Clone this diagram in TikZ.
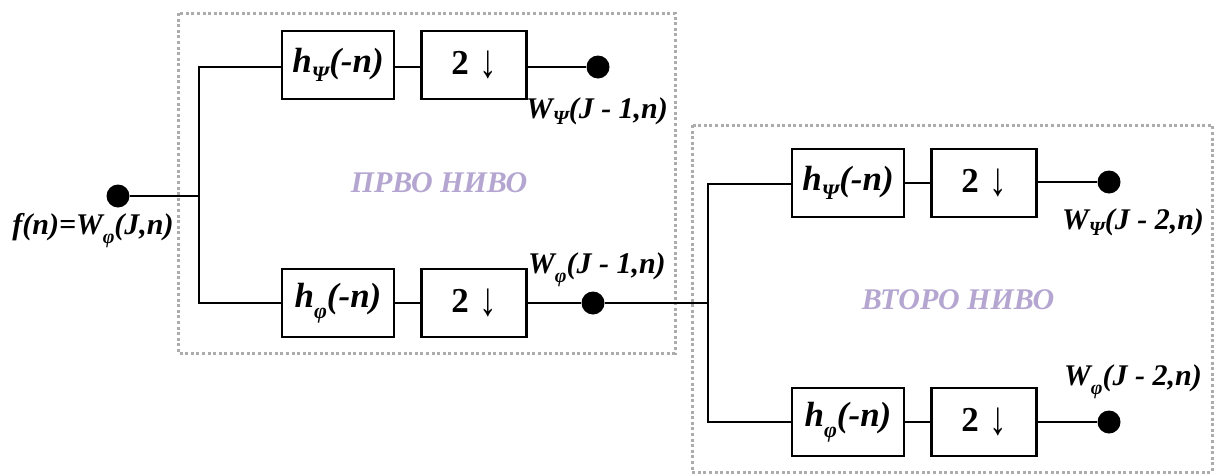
\documentclass[tikz,border=0pt]{standalone}
\usepackage{fontspec}
\usepackage{graphicx}
\setmainfont{Liberation Serif}
\definecolor{lav}{HTML}{B4A6D0}
\newcommand{\downsmp}{2\hspace{0.3em}\raisebox{-0.08em}{\scalebox{1}[1.35]{↓}}}
\begin{document}
\begin{tikzpicture}[x=1pt,y=-1pt,
  blk/.style={draw,line width=2.2pt,minimum height=68pt,inner sep=0pt,font=\fontsize{35}{36}\selectfont\bfseries},
  hbox/.style={blk,minimum width=112pt},
  dbox/.style={blk,minimum width=105pt},
  dot/.style={circle,fill=black,minimum size=23pt,inner sep=0pt},
  lbl/.style={font=\fontsize{30}{32}\selectfont\bfseries\itshape,inner sep=0pt},
  lvl/.style={font=\fontsize{30}{32}\selectfont\bfseries\itshape,text=lav,inner sep=0pt},
  frame/.style={draw=gray!65,line width=3pt,dash pattern=on 3pt off 2.6pt},
  wire/.style={line width=2.4pt}]
\useasboundingbox (0,0) rectangle (1215,474);
% frames
\draw[frame] (178,13) rectangle (675,353);
\draw[frame] (692,125) rectangle (1212,472);
% level 1
\node[dot] (in) at (118,196) {};
\coordinate (j1t) at (199,67);
\coordinate (j1m) at (199,196);
\coordinate (j1b) at (199,303);
\node[hbox] (a1) at (338,65) {\itshape h\raisebox{-0.25em}{\fontsize{22}{23}\selectfont Ψ}(-n)};
\node[dbox] (a2) at (474,65) {\downsmp};
\node[dot] (da) at (598,67) {};
\node[hbox] (b1) at (338,303) {\itshape h\raisebox{-0.3em}{\fontsize{22}{23}\selectfont φ}(-n)};
\node[dbox] (b2) at (474,303) {\downsmp};
\node[dot] (db) at (593,303) {};
\coordinate (j2m) at (708,303);
\coordinate (j2t) at (708,184);
\coordinate (j2b) at (708,422);
% level 2
\node[hbox] (c1) at (848,183) {\itshape h\raisebox{-0.25em}{\fontsize{22}{23}\selectfont Ψ}(-n)};
\node[dbox] (c2) at (984,183) {\downsmp};
\node[dot] (dc) at (1109,182) {};
\node[hbox] (e1) at (848,422) {\itshape h\raisebox{-0.3em}{\fontsize{22}{23}\selectfont φ}(-n)};
\node[dbox] (e2) at (984,422) {\downsmp};
\node[dot] (de) at (1109,422) {};
% wires
\draw[wire] (in) -- (j1m);
\draw[wire] (a1.west |- j1t) -- (j1t) -- (j1b) -- (b1.west |- j1b);
\draw[wire] (a1.east |- j1t) -- (a2.west |- j1t);
\draw[wire] (a2.east |- j1t) -- (da);
\draw[wire] (b1) -- (b2);
\draw[wire] (b2) -- (db) -- (j2m);
\draw[wire] (c1.west |- j2t) -- (j2t) -- (j2b) -- (e1.west |- j2b);
\draw[wire] (c1) -- (c2);
\draw[wire] (c2.east |- dc) -- (dc);
\draw[wire] (e1) -- (e2);
\draw[wire] (e2) -- (de);
% labels
\node[lbl] (lin) at (93,231) {f(n)=W\raisebox{-0.3em}{\fontsize{20}{21}\selectfont φ}(J,n)};
\node[lbl] (la) at (597,111) {W\raisebox{-0.2em}{\fontsize{20}{21}\selectfont Ψ}(J - 1,n)};
\node[lbl] (lb) at (597,270) {W\raisebox{-0.3em}{\fontsize{20}{21}\selectfont φ}(J - 1,n)};
\node[lbl] (lc) at (1133,222) {W\raisebox{-0.2em}{\fontsize{20}{21}\selectfont Ψ}(J - 2,n)};
\node[lbl] (le) at (1133,382) {W\raisebox{-0.3em}{\fontsize{20}{21}\selectfont φ}(J - 2,n)};
\node[lvl] (p1) at (439,183) {ПРВО НИВО};
\node[lvl] (p2) at (958,300) {ВТОРО НИВО};
\end{tikzpicture}
\end{document}
